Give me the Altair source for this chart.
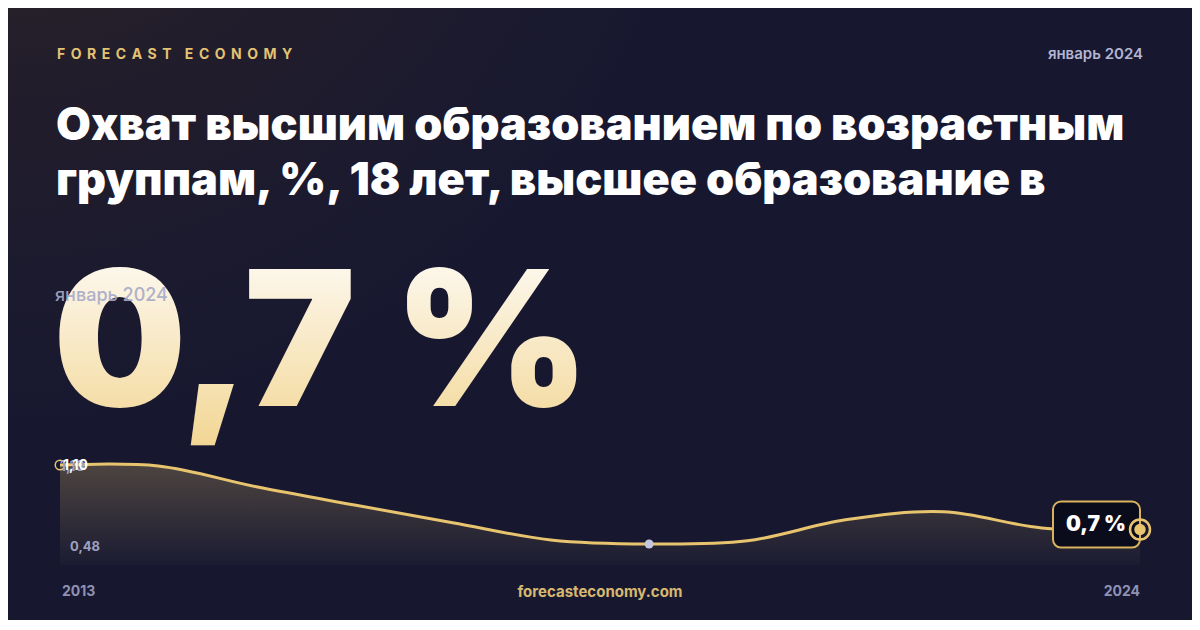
import altair as alt
import pandas as pd

# ---- data ----
years = [2013, 2014, 2015, 2016, 2017, 2018, 2019, 2020, 2021, 2022, 2023, 2024]
values = [1.10, 1.094, 0.965, 0.852, 0.742, 0.635, 0.61, 0.63, 0.76, 0.81, 0.71, 0.70]
marker_year = [2019]
marker_value = [0.61]
y_min_label = "0,48"
y_max_label = "1,10"
last_label = "0,7 %"
big_value = "0,7 %"
period = "январь 2024"
brand_words = ["FORECAST", "ECONOMY"]
title_lines = ["Охват высшим образованием по возрастным",
               "группам, %, 18 лет, высшее образование в"]
x_start_label = "2013"
x_end_label = "2024"
site = "forecasteconomy.com"

W, H = 1184, 612
GOLD = "#e8c46f"
FONT = "Inter"

SP = "\u00a0\u2009"
brand = (SP * 2 + "\u2009").join(SP.join(list(w)) for w in brand_words)

df = pd.DataFrame({"year": years, "value": values})
last = df.tail(1)
first = df.head(1)
mk = pd.DataFrame({"year": marker_year, "value": marker_value})
one = pd.DataFrame({"a": [0]})

xs = alt.Scale(domain=[2013, 2024], range=[52, 1132])
ys = alt.Scale(domain=[0.48, 1.10], range=[557, 457], zero=False)
X = alt.X("year:Q", scale=xs, axis=None)
Y = alt.Y("value:Q", scale=ys, axis=None)

bg = alt.Chart(one).mark_rect(
    fill={"gradient": "radial", "x1": 0.0, "y1": 0.0, "r1": 0.0,
          "x2": 0.0, "y2": 0.0, "r2": 0.6,
          "stops": [{"offset": 0, "color": "#362c29"},
                    {"offset": 0.5, "color": "#221d2b"},
                    {"offset": 1, "color": "#171830"}]}
).encode(x=alt.value(0), x2=alt.value(W), y=alt.value(0), y2=alt.value(H))

def txt(text, x, y, size, color, weight="normal", align="left", baseline="alphabetic", opacity=1.0):
    return alt.Chart(one).mark_text(
        text=text, font=FONT, fontSize=size, fill=color, fontWeight=weight,
        align=align, baseline=baseline, opacity=opacity
    ).encode(x=alt.value(x), y=alt.value(y))

brand_t = txt(brand, 49, 51, 14, "#e2c373", weight=700)
period_t = txt(period, 1135, 51, 15, "#b3b5d1", weight=600, align="right")
title1 = txt(title_lines[0], 48, 132, 45, "#ffffff", weight=900)
title2 = txt(title_lines[1], 48, 187, 45, "#ffffff", weight=900)

big = alt.Chart(one).mark_text(
    text=big_value, font=FONT, fontSize=188, fontWeight=900, align="left", baseline="alphabetic",
    fill={"gradient": "linear", "x1": 0, "y1": 0, "x2": 0, "y2": 1,
          "stops": [{"offset": 0, "color": "#ffffff"},
                    {"offset": 1, "color": "#f2d592"}]}
).encode(x=alt.value(45), y=alt.value(398))
period_overlay = txt(period, 47, 293, 18, "#a7a9c9", weight=500, opacity=0.9)

area = alt.Chart(df).mark_area(
    interpolate="catmull-rom",
    fill={"gradient": "linear", "x1": 0, "y1": 0, "x2": 0, "y2": 1,
          "stops": [{"offset": 0, "color": "rgba(232,196,111,0.26)"},
                    {"offset": 1, "color": "rgba(232,196,111,0.02)"}]}
).encode(x=X, y=Y, y2=alt.datum(0.48))

line = alt.Chart(df).mark_line(interpolate="catmull-rom", color=GOLD, strokeWidth=3).encode(x=X, y=Y)

start_pt = alt.Chart(first).mark_point(filled=False, size=90, stroke=GOLD, strokeWidth=1.5, opacity=1).encode(x=X, y=Y)
grey_pt = alt.Chart(mk).mark_point(filled=True, size=80, color="#c4c7dd", opacity=1).encode(x=X, y=Y)

box = alt.Chart(last).mark_rect(
    fill="#0b0c1b", stroke="#d9b25c", strokeWidth=2, cornerRadius=8,
    xOffset=-87, x2Offset=0, yOffset=-28, y2Offset=18
).encode(x=X, x2=alt.X2("year:Q"), y=Y, y2=alt.Y2("value:Q"))
box_t = alt.Chart(last).mark_text(
    text=last_label, font=FONT, fontSize=21, fontWeight=900, fill="#ffffff",
    align="center", baseline="middle", dx=-44, dy=-5
).encode(x=X, y=Y)
end_ring = alt.Chart(last).mark_point(filled=False, size=400, stroke=GOLD, strokeWidth=2.5, opacity=1).encode(x=X, y=Y)
end_dot = alt.Chart(last).mark_point(filled=True, size=130, color=GOLD, opacity=1).encode(x=X, y=Y)

ymax_g = txt(y_max_label, 52, 459, 14, "#9a9cbc", weight=700, baseline="middle")
ymax_w = txt(y_max_label, 55, 458, 14, "#ffffff", weight=700, baseline="middle")
ymin_t = txt(y_min_label, 62, 539, 13, "#9ea1c2", weight=700, baseline="middle")

x0_t = txt(x_start_label, 54, 584, 14, "#8f92b3", weight=700, baseline="middle")
x1_t = txt(x_end_label, 1132, 584, 14, "#8f92b3", weight=700, align="right", baseline="middle")
site_t = txt(site, 592, 584, 15, "#d8b870", weight=700, align="center", baseline="middle")

chart = alt.layer(
    bg, brand_t, period_t, title1, title2, big, period_overlay,
    area, line, start_pt, grey_pt, box, box_t, end_ring, end_dot,
    ymax_g, ymax_w, ymin_t, x0_t, x1_t, site_t
).properties(
    width=W, height=H, padding=0, autosize=alt.AutoSizeParams(type="none"),
    background="#171830"
).configure_view(stroke=None)

chart.save("out.html", embed_options={"renderer": "svg", "actions": False})
